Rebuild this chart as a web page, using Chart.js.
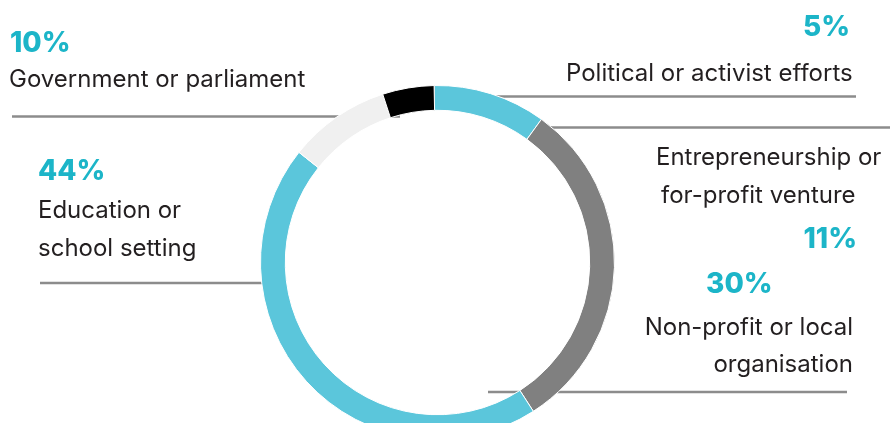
<!DOCTYPE html>
<html>
<head>
<meta charset="utf-8">
<script src="https://cdn.jsdelivr.net/npm/chart.js@4.4.1/dist/chart.umd.min.js"></script>
<style>
  html, body { margin: 0; padding: 0; background: #fff; }
  .wrap { width: 890px; height: 423px; overflow: hidden; position: relative; }
  canvas { display: block; }
</style>
</head>
<body>
<div class="wrap">
  <canvas id="donut" width="890" height="460"></canvas>
</div>
<script>
// data, clockwise from the top of the ring
const categories = ["Entrepreneurship or for-profit venture", "Non-profit or local organisation", "Education or school setting", "Government or parliament", "Political or activist efforts"];
const categoryLines = [["Entrepreneurship or", "for-profit venture"], ["Non-profit or local", "organisation"], ["Education or", "school setting"], ["Government or parliament"], ["Political or activist efforts"]];
const shares = [10.3, 30.9, 44.8, 9.3, 4.7];
const pctLabels = ["11%", "30%", "44%", "10%", "5%"];
const sliceColors = ["#5bc6db", "#808080", "#5bc6db", "#f0f0f0", "#000000"];

// where each callout sits (text baselines + leader line)
const callouts = [
  { pct: [857, 248, "right"], lines: [[656, 165, "left"], [661, 203, "left"]], rule: [548, 890, 127.5] },
  { pct: [706, 293, "left"], lines: [[853, 335, "right"], [853, 372, "right"]], rule: [488, 847, 392] },
  { pct: [38, 180, "left"], lines: [[38, 218, "left"], [38, 256, "left"]], rule: [40, 262, 283] },
  { pct: [10, 52, "left"], lines: [[9, 87, "left"]], rule: [12, 400, 116.5] },
  { pct: [850, 36, "right"], lines: [[566, 81, "left"]], rule: [475, 856, 96.5] }
];

const calloutPlugin = {
  id: "callouts",
  // leader lines go under the ring
  beforeDatasetsDraw(chart) {
    const ctx = chart.ctx;
    ctx.save();
    ctx.strokeStyle = "#8c8c8c";
    ctx.lineWidth = 2.5;
    callouts.forEach(c => {
      ctx.beginPath();
      ctx.moveTo(c.rule[0], c.rule[2]);
      ctx.lineTo(c.rule[1], c.rule[2]);
      ctx.stroke();
    });
    ctx.restore();
  },
  afterDatasetsDraw(chart) {
    const ctx = chart.ctx;
    ctx.save();
    ctx.textBaseline = "alphabetic";
    callouts.forEach((c, i) => {
      ctx.font = "800 28px Inter";
      ctx.fillStyle = "#1cb5c8";
      ctx.textAlign = c.pct[2];
      ctx.fillText(pctLabels[i], c.pct[0], c.pct[1]);
      ctx.font = "24px Inter";
      ctx.fillStyle = "#231f20";
      categoryLines[i].forEach((t, j) => {
        ctx.textAlign = c.lines[j][2];
        ctx.fillText(t, c.lines[j][0], c.lines[j][1]);
      });
    });
    ctx.restore();
  }
};

new Chart(document.getElementById("donut"), {
  type: "doughnut",
  data: {
    labels: categories,
    datasets: [{
      data: shares,
      backgroundColor: sliceColors,
      borderColor: "#ffffff",
      borderWidth: 1,
      hoverOffset: 0
    }]
  },
  options: {
    responsive: false,
    animation: false,
    cutout: "86%",
    rotation: -1.1,
    layout: { padding: { left: 260, right: 275, top: 85, bottom: 20 } },
    plugins: {
      legend: { display: false },
      tooltip: { enabled: false }
    }
  },
  plugins: [calloutPlugin]
});
</script>
</body>
</html>
